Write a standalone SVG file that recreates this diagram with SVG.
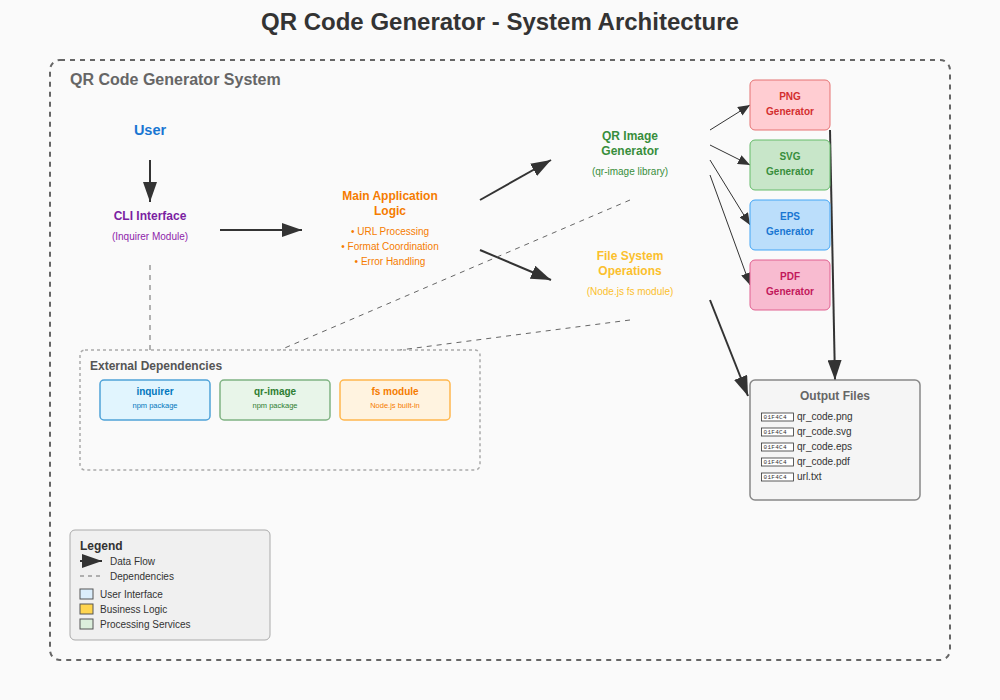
<svg xmlns="http://www.w3.org/2000/svg" width="1000" height="700" viewBox="0 0 1000 700">
<defs>
<marker id="arrL" markerWidth="20" markerHeight="14" refX="20" refY="7" orient="auto" markerUnits="userSpaceOnUse">
<path d="M0,0 L20,7 L0,14 z" fill="#333"/>
</marker>
<marker id="arrS" markerWidth="12" markerHeight="10" refX="12" refY="5" orient="auto" markerUnits="userSpaceOnUse">
<path d="M0,0 L12,5 L0,10 z" fill="#333"/>
</marker>
</defs>
<style>
text{font-family:"Liberation Sans",Arial,sans-serif}
.b{font-weight:bold}
.c{text-anchor:middle}
.flow{stroke:#333;stroke-width:2;fill:none}
.thin{stroke:#333;stroke-width:1;fill:none}
.dep{stroke:#666;stroke-width:1;stroke-dasharray:5,5;fill:none}
.pkg{stroke-width:1.5}
.tofu{fill:#fff;stroke:#333;stroke-width:0.8}
.hex{font-family:"Liberation Mono","DejaVu Sans Mono",monospace;font-size:6px;fill:#333;letter-spacing:0.3px}
.file{font-size:10px;fill:#333}
</style>
<rect width="1000" height="700" fill="#fafafa"/>
<text x="500" y="30" class="b c" font-size="24" fill="#333">QR Code Generator - System Architecture</text>

<g id="system">
<rect x="50" y="60" width="900" height="600" rx="10" fill="none" stroke="#666" stroke-width="2" stroke-dasharray="5,5"/>
<text x="70" y="85" class="b" font-size="16" fill="#666">QR Code Generator System</text>
</g>

<g id="connectors">
<line x1="150" y1="160" x2="150" y2="202" class="flow" marker-end="url(#arrL)"/>
<line x1="220" y1="230" x2="302" y2="230" class="flow" marker-end="url(#arrL)"/>
<line x1="480" y1="200" x2="551" y2="160" class="flow" marker-end="url(#arrL)"/>
<line x1="480" y1="250" x2="551" y2="280" class="flow" marker-end="url(#arrL)"/>
<line x1="710" y1="130" x2="750" y2="105" class="thin" marker-end="url(#arrS)"/>
<line x1="710" y1="145" x2="750" y2="165" class="thin" marker-end="url(#arrS)"/>
<line x1="710" y1="160" x2="750" y2="225" class="thin" marker-end="url(#arrS)"/>
<line x1="710" y1="175" x2="750" y2="285" class="thin" marker-end="url(#arrS)"/>
<line x1="830" y1="130" x2="835" y2="380" class="flow" marker-end="url(#arrL)"/>
<line x1="710" y1="300" x2="748" y2="396" class="flow" marker-end="url(#arrL)"/>
<line x1="150" y1="265" x2="150" y2="350" stroke="#999" stroke-width="1.5" stroke-dasharray="5,5"/>
<line x1="630" y1="200" x2="280" y2="350" class="dep"/>
<line x1="630" y1="320" x2="400" y2="350" class="dep"/>
</g>

<g id="user">
<text x="150" y="135" class="b c" font-size="14.5" fill="#1976d2">User</text>
</g>

<g id="cli">
<text x="150" y="220" class="b c" font-size="12" fill="#7b1fa2">CLI Interface</text>
<text x="150" y="240" class="c" font-size="10" fill="#8e24aa">(Inquirer Module)</text>
</g>

<g id="main-logic">
<text x="390" y="200" class="b c" font-size="12" fill="#f57c00">Main Application</text>
<text x="390" y="215" class="b c" font-size="12" fill="#f57c00">Logic</text>
<text x="390" y="235" class="c" font-size="10" fill="#f57c00">• URL Processing</text>
<text x="390" y="250" class="c" font-size="10" fill="#f57c00">• Format Coordination</text>
<text x="390" y="265" class="c" font-size="10" fill="#f57c00">• Error Handling</text>
</g>

<g id="qr-image-generator">
<text x="630" y="140" class="b c" font-size="12" fill="#388e3c">QR Image</text>
<text x="630" y="155" class="b c" font-size="12" fill="#388e3c">Generator</text>
<text x="630" y="175" class="c" font-size="10" fill="#388e3c">(qr-image library)</text>
</g>

<g id="file-system">
<text x="630" y="260" class="b c" font-size="12" fill="#fbc02d">File System</text>
<text x="630" y="275" class="b c" font-size="12" fill="#fbc02d">Operations</text>
<text x="630" y="295" class="c" font-size="10" fill="#fbc02d">(Node.js fs module)</text>
</g>

<g id="png-generator">
<rect x="750" y="80" width="80" height="50" rx="5" fill="#ffcdd2" stroke="#e57373"/>
<text x="790" y="100" class="b c" font-size="10" fill="#d32f2f">PNG</text>
<text x="790" y="115" class="b c" font-size="10" fill="#d32f2f">Generator</text>
</g>
<g id="svg-generator">
<rect x="750" y="140" width="80" height="50" rx="5" fill="#c8e6c9" stroke="#66bb6a"/>
<text x="790" y="160" class="b c" font-size="10" fill="#388e3c">SVG</text>
<text x="790" y="175" class="b c" font-size="10" fill="#388e3c">Generator</text>
</g>
<g id="eps-generator">
<rect x="750" y="200" width="80" height="50" rx="5" fill="#bbdefb" stroke="#42a5f5"/>
<text x="790" y="220" class="b c" font-size="10" fill="#1976d2">EPS</text>
<text x="790" y="235" class="b c" font-size="10" fill="#1976d2">Generator</text>
</g>
<g id="pdf-generator">
<rect x="750" y="260" width="80" height="50" rx="5" fill="#f8bbd0" stroke="#e06090"/>
<text x="790" y="280" class="b c" font-size="10" fill="#c2185b">PDF</text>
<text x="790" y="295" class="b c" font-size="10" fill="#c2185b">Generator</text>
</g>

<g id="output-files">
<rect x="750" y="380" width="170" height="120" rx="5" fill="#f5f5f5" stroke="#888" stroke-width="1.5"/>
<text x="835" y="400" class="b c" font-size="12" fill="#666">Output Files</text>
<rect x="761.5" y="413" width="32" height="8" class="tofu"/>
<text x="763.5" y="419.3" class="hex">01F4C4</text>
<text x="797" y="420" class="file">qr_code.png</text>
<rect x="761.5" y="428" width="32" height="8" class="tofu"/>
<text x="763.5" y="434.3" class="hex">01F4C4</text>
<text x="797" y="435" class="file">qr_code.svg</text>
<rect x="761.5" y="443" width="32" height="8" class="tofu"/>
<text x="763.5" y="449.3" class="hex">01F4C4</text>
<text x="797" y="450" class="file">qr_code.eps</text>
<rect x="761.5" y="458" width="32" height="8" class="tofu"/>
<text x="763.5" y="464.3" class="hex">01F4C4</text>
<text x="797" y="465" class="file">qr_code.pdf</text>
<rect x="761.5" y="473" width="32" height="8" class="tofu"/>
<text x="763.5" y="479.3" class="hex">01F4C4</text>
<text x="797" y="480" class="file">url.txt</text>
</g>

<g id="external-dependencies">
<rect x="80" y="350" width="400" height="120" rx="5" fill="none" stroke="#aaa" stroke-width="1.5" stroke-dasharray="3,3"/>
<text x="90" y="370" class="b" font-size="12" fill="#555">External Dependencies</text>
</g>
<g id="inquirer">
<rect x="100" y="380" width="110" height="40" rx="4" fill="#e1f5fe" stroke="#4fa3d8" class="pkg"/>
<text x="155" y="395" class="b c" font-size="10" fill="#0277bd">inquirer</text>
<text x="155" y="408" class="c" font-size="7.5" fill="#0277bd">npm package</text>
</g>
<g id="qr-image">
<rect x="220" y="380" width="110" height="40" rx="4" fill="#e8f5e9" stroke="#7fb383" class="pkg"/>
<text x="275" y="395" class="b c" font-size="10" fill="#2e7d32">qr-image</text>
<text x="275" y="408" class="c" font-size="7.5" fill="#2e7d32">npm package</text>
</g>
<g id="fs-module">
<rect x="340" y="380" width="110" height="40" rx="4" fill="#fff3e0" stroke="#ffb74d" class="pkg"/>
<text x="395" y="395" class="b c" font-size="10" fill="#f57c00">fs module</text>
<text x="395" y="408" class="c" font-size="7.5" fill="#f57c00">Node.js built-in</text>
</g>

<g id="legend">
<rect x="70" y="530" width="200" height="110" rx="5" fill="#f0f0f0" stroke="#aaa" stroke-width="1"/>
<text x="80" y="550" class="b" font-size="12" fill="#333">Legend</text>
<line x1="80" y1="561" x2="102" y2="561" class="flow" marker-end="url(#arrL)"/>
<text x="110" y="565" font-size="10" fill="#333">Data Flow</text>
<line x1="80" y1="576" x2="100" y2="576" stroke="#999" stroke-width="1.5" stroke-dasharray="4,4"/>
<text x="110" y="580" font-size="10" fill="#333">Dependencies</text>
<rect x="80" y="589" width="13" height="10" fill="#dbeefc" stroke="#555"/>
<text x="100" y="598" font-size="10" fill="#333">User Interface</text>
<rect x="80" y="604" width="13" height="10" fill="#ffd54f" stroke="#555"/>
<text x="100" y="613" font-size="10" fill="#333">Business Logic</text>
<rect x="80" y="619" width="13" height="10" fill="#dcefdc" stroke="#555"/>
<text x="100" y="628" font-size="10" fill="#333">Processing Services</text>
</g>
</svg>
